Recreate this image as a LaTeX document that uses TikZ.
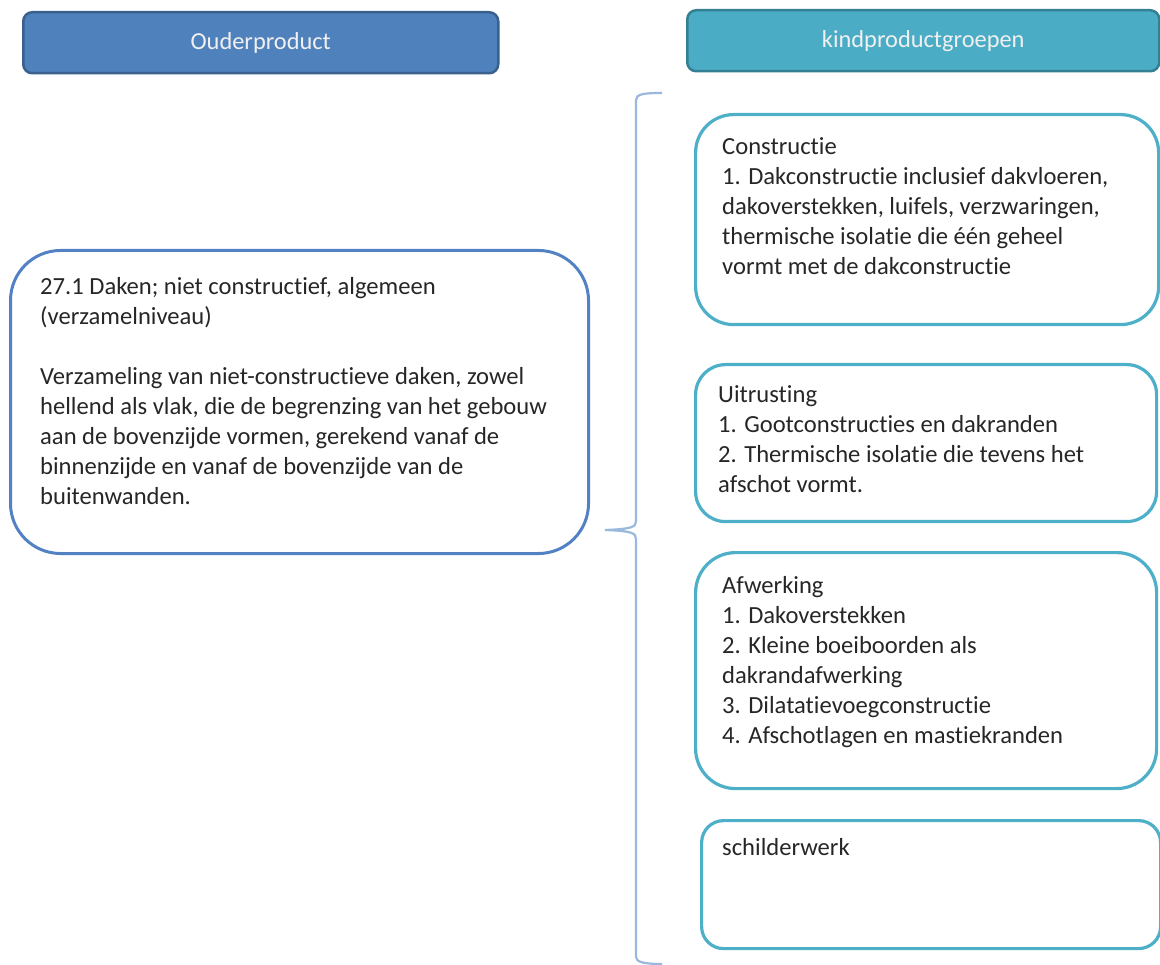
\documentclass[tikz,border=0pt]{standalone}
\usepackage{fontspec}
\setmainfont{Carlito}[Ligatures=NoCommon]
\usetikzlibrary{calc}
\definecolor{hdrblue}{HTML}{4F81BD}
\definecolor{hdrblueedge}{HTML}{3A608E}
\definecolor{hdrteal}{HTML}{4BACC6}
\definecolor{hdrtealedge}{HTML}{357F93}
\definecolor{parentedge}{HTML}{5382C4}
\definecolor{childedge}{HTML}{4DAFC8}
\definecolor{bracecol}{HTML}{9AB7DC}
\definecolor{txtcol}{HTML}{262626}
\tikzset{
  x=1pt, y=-1pt,
  header/.style={draw, line width=2.5pt, rounded corners=9pt, anchor=north west, inner sep=0pt,
     font=\fontsize{24.4}{28}\selectfont, text=white!94!black},
  pbox/.style={draw=parentedge, line width=3pt, rounded corners=50pt, anchor=north west, inner sep=0pt},
  cbox/.style={draw=childedge, line width=3.2pt, rounded corners=38pt, anchor=north west, inner sep=0pt},
  body/.style={anchor=north west, align=left, inner sep=0pt, text=txtcol,
     font=\fontsize{24.6}{30}\selectfont},
}
\begin{document}
\begin{tikzpicture}
\useasboundingbox (0,0) rectangle (1160,965);
% headers
\node[header, fill=hdrblue, draw=hdrblueedge, minimum width=475pt, minimum height=61pt] (hp) at (22,11) {\raisebox{3.5pt}{Ouderproduct}};
\node[header, fill=hdrteal, draw=hdrtealedge, minimum width=472pt, minimum height=61pt] (hk) at (686,9) {\raisebox{3.5pt}{kindproductgroepen}};
% parent box
\node[pbox, minimum width=578pt, minimum height=303pt] (parent) at (9,249) {};
\node[body] (ptext) at ($(parent.north west)+(31,28)$) {27.1 Daken; niet constructief, algemeen\\(verzamelniveau)\\[30pt]Verzameling van niet-constructieve daken, zowel\\hellend als vlak, die de begrenzing van het gebouw\\aan de bovenzijde vormen, gerekend vanaf de\\binnenzijde en vanaf de bovenzijde van de\\buitenwanden.};
% child boxes
\node[cbox, minimum width=463pt, minimum height=210pt] (c1) at (694,113) {};
\node[body] (t1) at ($(c1.north west)+(28,24)$) {Constructie\\1. Dakconstructie inclusief dakvloeren,\\dakoverstekken, luifels, verzwaringen,\\thermische isolatie die één geheel\\vormt met de dakconstructie};
\node[cbox, rounded corners=30pt, minimum width=461pt, minimum height=157pt] (c2) at (694,363) {};
\node[body] (t2) at ($(c2.north west)+(24,22)$) {Uitrusting\\1. Gootconstructies en dakranden\\2. Thermische isolatie die tevens het\\afschot vormt.};
\node[cbox, rounded corners=40pt, minimum width=461pt, minimum height=236pt] (c3) at (694,551) {};
\node[body] (t3) at ($(c3.north west)+(28,25)$) {Afwerking\\1. Dakoverstekken\\2. Kleine boeiboorden als\\dakrandafwerking\\3. Dilatatievoegconstructie\\4. Afschotlagen en mastiekranden};
\node[cbox, rounded corners=22pt, minimum width=459pt, minimum height=128pt] (c4) at (700,819) {};
\node[body] (t4) at ($(c4.north west)+(22,19)$) {schilderwerk};
% brace
\coordinate (btop) at (662,93);
\coordinate (btip) at (605,530);
\coordinate (bbot) at (662,964);
\draw[bracecol, line width=2.2pt]
  (btop) .. controls (644,93) and (636,94) .. (636,100)
  -- (636,521) .. controls (636,527) and (632,529) .. (btip)
  .. controls (632,531) and (636,533) .. (636,539)
  -- (636,957) .. controls (636,962) and (644,964) .. (bbot);
\end{tikzpicture}
\end{document}
